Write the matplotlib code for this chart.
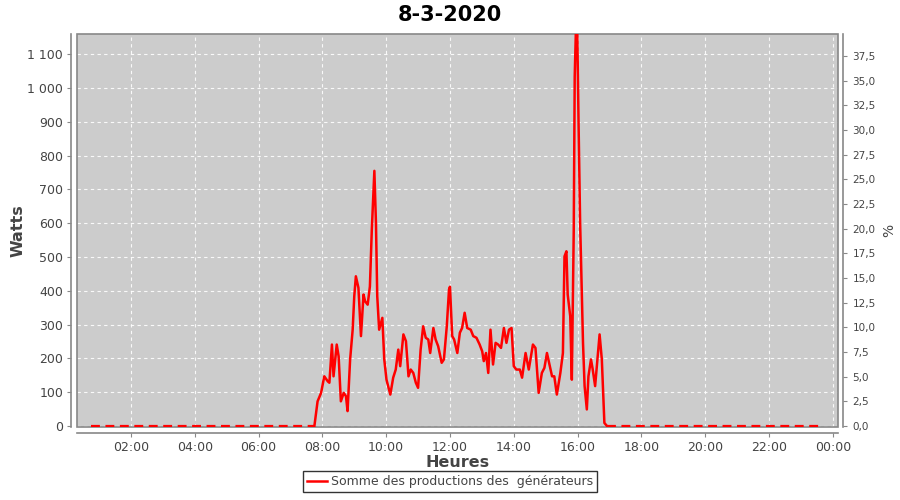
import matplotlib
matplotlib.use("Agg")
import matplotlib.pyplot as plt
from matplotlib.ticker import FuncFormatter, MultipleLocator
from matplotlib.patches import Rectangle

# production data (hours, watts)
night_am_t = [0.75, 1.0, 1.5, 2.0, 2.5, 3.0, 3.5, 4.0, 4.5, 5.0, 5.5, 6.0, 6.5, 6.9, 7.2, 7.5, 7.75]
night_am_w = [0] * len(night_am_t)

day_t = [7.75, 7.85, 7.96, 8.06, 8.17, 8.22, 8.30, 8.35, 8.45, 8.51, 8.58, 8.67, 8.74, 8.79,
         8.87, 8.95, 9.00, 9.05, 9.13, 9.21, 9.29, 9.34, 9.42, 9.49, 9.55, 9.63, 9.68, 9.72,
         9.78, 9.88, 9.94, 10.01, 10.13, 10.22, 10.30, 10.38, 10.44, 10.54, 10.62, 10.70,
         10.77, 10.85, 10.93, 11.00, 11.08, 11.16, 11.24, 11.32, 11.38, 11.48, 11.55, 11.63,
         11.74, 11.81, 11.90, 11.97, 12.00, 12.07, 12.13, 12.23, 12.31, 12.38, 12.46, 12.54,
         12.65, 12.73, 12.83, 12.93, 13.01, 13.06, 13.13, 13.20, 13.27, 13.35, 13.43, 13.51,
         13.60, 13.69, 13.77, 13.85, 13.93, 14.00, 14.08, 14.19, 14.26, 14.37, 14.47, 14.60,
         14.68, 14.78, 14.88, 14.96, 15.04, 15.13, 15.20, 15.27, 15.35, 15.46, 15.54, 15.59,
         15.65, 15.69, 15.77, 15.82, 15.88, 15.91, 15.95, 15.99, 16.03, 16.08, 16.17, 16.22, 16.29,
         16.34, 16.42, 16.47, 16.55, 16.63, 16.69, 16.76, 16.84, 16.92]
day_w = [0, 73, 98, 147, 132, 128, 241, 147, 241, 206, 73, 98, 88, 44,
         197, 285, 384, 443, 409, 266, 389, 369, 359, 413, 581, 755, 600, 384,
         285, 320, 197, 137, 93, 143, 167, 226, 177, 271, 251, 147,
         167, 157, 128, 113, 226, 295, 261, 256, 216, 290, 256, 236,
         187, 197, 295, 404, 412, 266, 256, 216, 276, 290, 335, 290,
         285, 266, 261, 241, 221, 192, 216, 157, 285, 182, 246, 241,
         231, 290, 246, 285, 290, 177, 167, 167, 143, 216, 167, 241,
         231, 98, 157, 172, 216, 177, 147, 147, 93, 157, 216, 502,
         517, 389, 325, 137, 581, 1034, 1180, 1170, 900, 601, 246, 118, 49,
         147, 197, 170, 118, 206, 271, 197, 9, 0]

night_pm_t = [16.92, 17.5, 18.0, 18.5, 19.0, 19.5, 20.0, 20.5, 21.0, 21.5, 22.0, 22.5, 23.0, 23.5, 23.7]
night_pm_w = [0] * len(night_pm_t)

x_ticks = [2, 4, 6, 8, 10, 12, 14, 16, 18, 20, 22, 24]
x_labels = ["02:00", "04:00", "06:00", "08:00", "10:00", "12:00",
            "14:00", "16:00", "18:00", "20:00", "22:00", "00:00"]
capacity = 2920  # watts for 100 %

grey_txt = "#444444"
axis_col = "#888888"

fig = plt.figure(figsize=(9, 5), dpi=100)
ax = fig.add_axes([0.0856, 0.146, 0.8454, 0.786])
ax.set_facecolor("#cccccc")

red = "#ff0000"
ax.plot(day_t, day_w, color=red, lw=1.8, zorder=6,
        label="Somme des productions des  générateurs")
ax.plot(night_am_t, night_am_w, color=red, lw=1.6, dashes=(4, 2.5), zorder=6)
ax.plot(night_pm_t, night_pm_w, color=red, lw=1.6, dashes=(4, 2.5), zorder=6)

ymin, ymax = -3, 1160
ax.set_xlim(0.31, 24.16)
ax.set_ylim(ymin, ymax)

ax.xaxis.set_major_locator(plt.FixedLocator(x_ticks))
ax.set_xticklabels(x_labels)
ax.yaxis.set_major_locator(MultipleLocator(100))
ax.yaxis.set_major_formatter(FuncFormatter(lambda v, p: f"{v:,.0f}".replace(",", " ")))

ax.grid(True, color="white", linestyle=(0, (3, 3)), lw=0.8, alpha=0.9)
ax.set_axisbelow(True)

for s in ["top", "right"]:
    ax.spines[s].set_visible(False)
for s in ["left", "bottom"]:
    ax.spines[s].set_position(("outward", 4))
    ax.spines[s].set_color(axis_col)
    ax.spines[s].set_linewidth(1.2)
# plot border
ax.add_patch(Rectangle((0, 0), 1, 1, transform=ax.transAxes, fill=False,
                       edgecolor=axis_col, lw=1.2, zorder=5, clip_on=False))

ax.tick_params(axis="both", colors=axis_col, labelcolor=grey_txt, labelsize=9, length=3, pad=3)
ax.set_xlabel("Heures", fontsize=11.5, fontweight="bold", color=grey_txt)
ax.set_ylabel("Watts", fontsize=11.5, fontweight="bold", color=grey_txt)
ax.xaxis.set_label_coords(0.5, -0.072)
ax.yaxis.set_label_coords(-0.068, 0.5)

# right axis in percent
ax2 = ax.twinx()
ax2.set_ylim(ymin / capacity * 100, ymax / capacity * 100)
ax2.yaxis.set_major_locator(MultipleLocator(2.5))
ax2.yaxis.set_major_formatter(FuncFormatter(lambda v, p: f"{v:.1f}".replace(".", ",")))
for s in ["top", "left", "bottom"]:
    ax2.spines[s].set_visible(False)
ax2.spines["right"].set_position(("outward", 4))
ax2.spines["right"].set_color(axis_col)
ax2.spines["right"].set_linewidth(1.2)
ax2.tick_params(axis="y", colors=axis_col, labelcolor=grey_txt, labelsize=7.5, length=3)
ax2.set_ylabel("%", fontsize=10, color=grey_txt)
ax2.yaxis.set_label_coords(1.058, 0.5)

fig.suptitle("8-3-2020", fontsize=15, fontweight="bold", y=0.99)

leg = fig.legend(loc="lower center", bbox_to_anchor=(0.5, 0.004), fontsize=9,
                 frameon=True, fancybox=False, handlelength=1.6, borderpad=0.3,
                 handletextpad=0.3)
leg.get_frame().set_edgecolor("black")
leg.get_frame().set_linewidth(1.0)
for t in leg.get_texts():
    t.set_color(grey_txt)

fig.savefig("out.png", dpi=100)
